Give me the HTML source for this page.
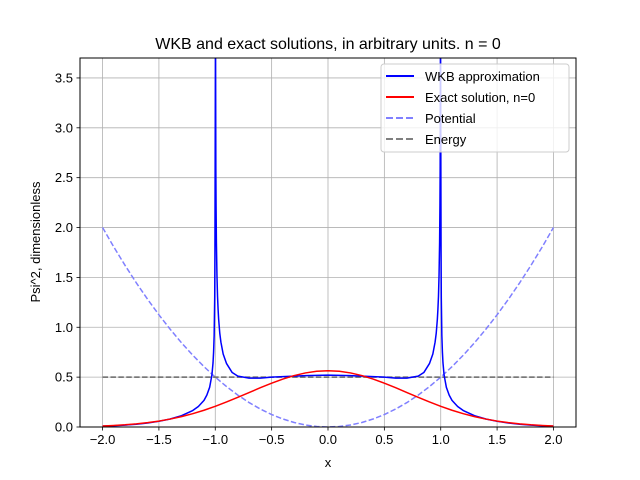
<!DOCTYPE html>
<html><head><meta charset="utf-8"><style>
body{margin:0;background:#fff;}
svg{display:block;font-family:"Liberation Sans","DejaVu Sans",sans-serif;}
</style></head><body>
<svg id="chart" width="640" height="480" viewBox="0 0 640 480" xmlns="http://www.w3.org/2000/svg">
<defs><clipPath id="clip"><rect x="80" y="58" width="496" height="369"/></clipPath></defs>
<rect width="640" height="480" fill="#fff"/>
<g id="grid"></g>
<g id="series" clip-path="url(#clip)"></g>
<rect x="80" y="58" width="496" height="369" fill="none" stroke="#000" stroke-width="1"/>
<g id="ticks"></g>
<text x="328" y="49" text-anchor="middle" font-size="16">WKB and exact solutions, in arbitrary units. n = 0</text>
<text x="328" y="467" text-anchor="middle" font-size="13">x</text>
<text transform="translate(40,242) rotate(-90)" text-anchor="middle" font-size="13">Psi^2, dimensionless</text>
<g>
<rect x="381" y="64" width="188" height="88" rx="3" fill="#fff" fill-opacity="0.8" stroke="#ccc"/>
<line x1="386" y1="76" x2="414" y2="76" stroke="#0000ff" stroke-width="2"/>
<text x="425" y="81" font-size="13">WKB approximation</text>
<line x1="386" y1="97" x2="414" y2="97" stroke="#ff0000" stroke-width="2"/>
<text x="425" y="102" font-size="13">Exact solution, n=0</text>
<line x1="386" y1="118" x2="414" y2="118" stroke="#8080ff" stroke-width="2" stroke-dasharray="7,3"/>
<text x="425" y="123" font-size="13">Potential</text>
<line x1="386" y1="139" x2="414" y2="139" stroke="#808080" stroke-width="2" stroke-dasharray="7,3"/>
<text x="425" y="144" font-size="13">Energy</text>
</g>
</svg>
<script>
const xTicks=[-2.0,-1.5,-1.0,-0.5,0.0,0.5,1.0,1.5,2.0];
const xTickLabels=["−2.0","−1.5","−1.0","−0.5","0.0","0.5","1.0","1.5","2.0"];
const yTicks=[0,0.5,1,1.5,2,2.5,3,3.5];
const yTickLabels=["0.0","0.5","1.0","1.5","2.0","2.5","3.0","3.5"];
const gridX=[-2,-1.9,-1.8,-1.7,-1.6,-1.5,-1.4,-1.3,-1.2,-1.1,-1.0,-0.9,-0.8,-0.7,-0.6,-0.5,-0.4,-0.3,-0.2,-0.1,0,0.1,0.2,0.3,0.4,0.5,0.6,0.7,0.8,0.9,1.0,1.1,1.2,1.3,1.4,1.5,1.6,1.7,1.8,1.9,2.0];
const exactY=[.0103,.0153,.0221,.0314,.0436,.0595,.0795,.1041,.1337,.1682,.2076,.2510,.2975,.3456,.3937,.4394,.4808,.5156,.5421,.5586,.5642,.5586,.5421,.5156,.4808,.4394,.3937,.3456,.2975,.2510,.2076,.1682,.1337,.1041,.0795,.0595,.0436,.0314,.0221,.0153,.0103];
const potentialY=[2,1.805,1.62,1.445,1.28,1.125,.98,.845,.72,.605,.5,.405,.32,.245,.18,.125,.08,.045,.02,.005,0,.005,.02,.045,.08,.125,.18,.245,.32,.405,.5,.605,.72,.845,.98,1.125,1.28,1.445,1.62,1.805,2];
const energyX=[-2,2];
const energyY=[0.5,0.5];
const wkbX=[-2,-1.9,-1.8,-1.7,-1.6,-1.5,-1.4,-1.3,-1.2,-1.15,-1.1,-1.075,-1.05,-1.03,-1.02,-1.015,-1.01,-1.005,-1.003,-0.998,-0.995,-0.993,-0.99,-0.985,-0.98,-0.975,-0.97,-0.96,-0.95,-0.93,-0.9,-0.85,-0.8,-0.7,-0.6,-0.5,-0.4,-0.2,0,0.2,0.4,0.5,0.6,0.7,0.8,0.85,0.9,0.93,0.95,0.96,0.97,0.975,0.98,0.985,0.99,0.993,0.995,0.998,1.003,1.005,1.01,1.015,1.02,1.03,1.05,1.075,1.1,1.15,1.2,1.3,1.4,1.5,1.6,1.7,1.8,1.9,2];
const wkbY=[.0088,.0131,.0194,.028,.040,.057,.080,.113,.165,.206,.267,.32,.398,.52,.643,.75,.917,1.30,1.77,4.1,2.6,2.22,1.85,1.52,1.31,1.18,1.08,.94,.851,.732,.636,.546,.51,.49,.49,.50,.505,.515,.52,.515,.505,.50,.49,.49,.51,.546,.636,.732,.851,.94,1.08,1.18,1.31,1.52,1.85,2.22,2.6,4.1,1.77,1.30,.917,.75,.643,.52,.398,.32,.267,.206,.165,.113,.080,.057,.040,.028,.0194,.0131,.0088];
const NS="http://www.w3.org/2000/svg";
const X0=80,X1=576,Y0=427,Y1=58,XMIN=-2.2,XMAX=2.2,YMIN=0,YMAX=3.7;
function sx(v){return X0+(v-XMIN)/(XMAX-XMIN)*(X1-X0);}
function sy(v){return Y0-(v-YMIN)/(YMAX-YMIN)*(Y0-Y1);}
function mk(tag,attrs,parent){const e=document.createElementNS(NS,tag);for(const k in attrs)e.setAttribute(k,attrs[k]);parent.appendChild(e);return e;}
const grid=document.getElementById('grid'),ticks=document.getElementById('ticks'),series=document.getElementById('series');
xTicks.forEach((t,i)=>{
  const g=mk('line',{x1:sx(t),x2:sx(t),y1:Y1,y2:Y0,stroke:'#b0b0b0','stroke-width':0.8},grid);
  
  
  const tk=mk('line',{x1:sx(t),x2:sx(t),y1:Y0,y2:Y0+3.5,stroke:'#000','stroke-width':0.8},ticks);
  
  
  const l=mk('text',{x:sx(t),y:Y0+17,'text-anchor':'middle','font-size':13},ticks);
  l.textContent=xTickLabels[i];
  
  
});
yTicks.forEach((t,i)=>{
  const g=mk('line',{x1:X0,x2:X1,y1:sy(t),y2:sy(t),stroke:'#b0b0b0','stroke-width':0.8},grid);
  
  
  const tk=mk('line',{x1:X0-3.5,x2:X0,y1:sy(t),y2:sy(t),stroke:'#000','stroke-width':0.8},ticks);
  
  
  const l=mk('text',{x:X0-7,y:sy(t)+4.5,'text-anchor':'end','font-size':13},ticks);
  l.textContent=yTickLabels[i];
  
  
});
function line(xs,ys,stroke,dash,name){
  const d=xs.map((x,i)=>(i?'L':'M')+sx(x).toFixed(2)+','+sy(ys[i]).toFixed(2)).join(' ');
  const p=mk('path',{d:d,fill:'none',stroke:stroke,'stroke-width':1.5,'stroke-linejoin':'round'},series);
  if(dash)p.setAttribute('stroke-dasharray',dash);
  
  
}
line(gridX,potentialY,'#8080ff','5.5,2.4','potential-line');
line(energyX,energyY,'#666','5.5,2.4','energy-line');
line(wkbX,wkbY,'#0000ff',null,'wkb-line');
line(gridX,exactY,'#ff0000',null,'exact-line');
</script>
</body></html>
